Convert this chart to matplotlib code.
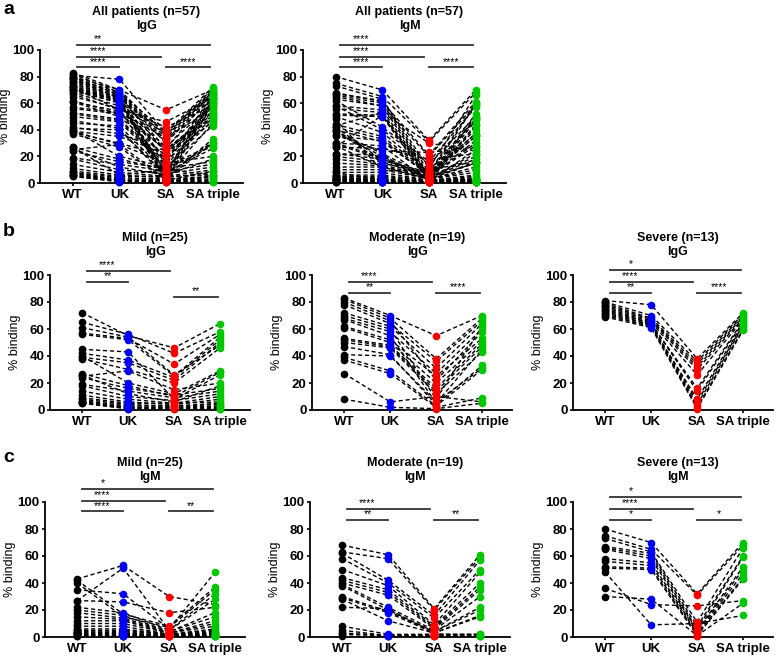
import matplotlib
matplotlib.use("Agg")
import matplotlib.pyplot as plt

plt.rcParams['font.family'] = ['Liberation Sans', 'DejaVu Sans']
plt.rcParams['font.weight'] = 'bold'

W, H = 778, 656

categories = ["WT", "UK", "SA", "SA triple"]
colors = ["black", "#0000ff", "#ff0000", "#00c800"]

# IgG, per patient: WT, UK, SA, SA triple
mild_igg_wt = [72, 65, 61, 57, 56, 45, 42, 40, 39, 38, 27, 26, 25, 24, 19, 18, 14, 11, 9, 8, 7, 6, 6, 5, 5]
mild_igg_uk = [55, 56, 54, 53, 52, 43, 37, 20, 35, 30, 18, 12, 29, 16, 14, 10, 8, 6, 5, 4, 3, 2, 2, 1, 1]
mild_igg_sa = [46, 42, 26, 34, 25, 8, 24, 12, 22, 20, 10, 6, 15, 11, 9, 7, 5, 4, 5, 3, 3, 2, 2, 1, 1]
mild_igg_sat = [64, 58, 48, 56, 54, 26, 52, 29, 50, 46, 28, 18, 20, 16, 14, 12, 10, 8, 6, 5, 4, 3, 2, 1, 1]

mod_igg_wt = [83, 82, 80, 78, 72, 70, 68, 67, 62, 61, 53, 52, 50, 47, 41, 39, 37, 27, 8]
mod_igg_uk = [70, 68, 66, 64, 62, 60, 58, 55, 52, 50, 48, 47, 46, 41, 40, 29, 27, 6, 2]
mod_igg_sa = [55, 38, 22, 36, 31, 8, 27, 5, 25, 20, 16, 14, 12, 4, 6, 3, 2, 10, 1]
mod_igg_sat = [70, 68, 58, 66, 64, 62, 60, 45, 53, 51, 49, 47, 43, 33, 31, 30, 9, 6, 5]

sev_igg_wt = [81, 80, 79, 78, 77, 76, 75, 74, 73, 72, 71, 70, 69]
sev_igg_uk = [78, 70, 68, 67, 66, 65, 64, 64, 63, 63, 62, 62, 61]
sev_igg_sa = [38, 36, 34, 32, 30, 26, 16, 14, 8, 6, 4, 2, 1]
sev_igg_sat = [72, 71, 70, 69, 68, 67, 66, 65, 64, 63, 62, 60, 59]

# IgM
mild_igm_wt = [43, 42, 40, 35, 27, 27, 22, 20, 18, 15, 12, 10, 8, 6, 5, 5, 4, 4, 3, 3, 2, 2, 2, 1, 1]
mild_igm_uk = [53, 17, 15, 32, 51, 26, 18, 16, 14, 13, 12, 10, 8, 6, 5, 4, 3, 3, 2, 2, 1, 1, 1, 1, 1]
mild_igm_sa = [30, 8, 7, 6, 5, 18, 5, 4, 4, 3, 3, 3, 2, 2, 2, 2, 1, 1, 1, 1, 1, 1, 0.5, 0.5, 0.5]
mild_igm_sat = [24, 37, 35, 48, 32, 22, 28, 18, 15, 12, 10, 8, 6, 5, 4, 3, 3, 2, 2, 1, 1, 1, 1, 0.5, 0.5]

mod_igm_wt = [68, 63, 62, 58, 50, 44, 42, 40, 39, 38, 30, 29, 28, 22, 8, 5, 3, 2, 1]
mod_igm_uk = [61, 58, 42, 40, 38, 35, 33, 31, 22, 20, 19, 18, 12, 21, 2, 1, 1, 1, 1]
mod_igm_sa = [21, 20, 16, 14, 9, 8, 7, 6, 5, 4, 4, 3, 3, 2, 2, 2, 1, 1, 1]
mod_igm_sat = [61, 59, 57, 50, 48, 40, 37, 35, 30, 22, 20, 16, 15, 2, 2, 1, 1, 1, 1]

sev_igm_wt = [80, 75, 73, 67, 66, 65, 58, 56, 52, 51, 48, 36, 30]
sev_igm_uk = [70, 65, 63, 62, 60, 58, 55, 53, 51, 50, 9, 24, 28]
sev_igm_sa = [32, 31, 11, 8, 6, 5, 4, 3, 2, 1, 10, 23, 1]
sev_igm_sat = [70, 68, 66, 60, 59, 52, 50, 47, 44, 43, 16, 27, 25]

# significance bars: (start, end, height, label)
sig_all_igg = [(0.1, 2.95, 104, "**"), (0.1, 1.9, 95, "****"), (0.1, 1.0, 87, "****"), (2.0, 2.95, 87, "****")]
sig_all_igm = [(0.1, 2.95, 104, "****"), (0.1, 1.9, 95, "****"), (0.1, 1.0, 87, "****"), (2.0, 2.95, 87, "****")]
sig_mild_igg = [(0.1, 1.9, 103, "****"), (0.1, 1.0, 95, "**"), (2.0, 2.95, 84, "**")]
sig_mod_igg = [(0.1, 1.9, 95, "****"), (0.1, 1.0, 87, "**"), (2.0, 2.95, 87, "****")]
sig_sev_igg = [(0.1, 2.95, 104, "*"), (0.1, 1.9, 95, "****"), (0.1, 1.0, 87, "**"), (2.0, 2.95, 87, "****")]
sig_mild_igm = [(0.1, 2.95, 110, "*"), (0.1, 1.9, 101, "****"), (0.1, 1.0, 93, "****"), (2.0, 2.95, 93, "**")]
sig_mod_igm = [(0.1, 1.9, 95, "****"), (0.1, 1.0, 87, "**"), (2.0, 2.95, 87, "**")]
sig_sev_igm = [(0.1, 2.95, 104, "*"), (0.1, 1.9, 95, "****"), (0.1, 1.0, 87, "*"), (2.0, 2.95, 87, "*")]


def series(*groups):
    return [sum(g, []) for g in zip(*groups)]


all_igg = series([mild_igg_wt, mild_igg_uk, mild_igg_sa, mild_igg_sat],
                 [mod_igg_wt, mod_igg_uk, mod_igg_sa, mod_igg_sat],
                 [sev_igg_wt, sev_igg_uk, sev_igg_sa, sev_igg_sat])
all_igm = series([mild_igm_wt, mild_igm_uk, mild_igm_sa, mild_igm_sat],
                 [mod_igm_wt, mod_igm_uk, mod_igm_sa, mod_igm_sat],
                 [sev_igm_wt, sev_igm_uk, sev_igm_sa, sev_igm_sat])

fig = plt.figure(figsize=(W / 100, H / 100), dpi=100)


def panel(x0, ytop, width, height, data, title, sig, title_y):
    ax = fig.add_axes([x0 / W, 1 - (ytop + height) / H, width / W, height / H])
    n = len(data[0])
    xs = range(len(categories))
    for i in range(n):
        ax.plot(xs, [d[i] for d in data], color="black", ls=(0, (3, 2)), lw=1, zorder=2, clip_on=False)
    for j, d in enumerate(data):
        ax.plot([j] * n, d, "o", color=colors[j], ms=5.5, mec="none", zorder=3, clip_on=False)
    for a, b, y, lab in sig:
        ax.plot([a, b], [y, y], color="#333333", lw=1.3, clip_on=False)
        xt = (a + b) / 2 if a >= 2 else 0.55
        ax.text(xt, y + 0.3, lab, ha="center", va="bottom", fontsize=7.5, fontweight="normal")
    ax.set_xlim(-0.7, 3.65)
    ax.set_ylim(0, 100)
    ax.set_yticks([0, 20, 40, 60, 80, 100])
    ax.set_xticks(list(xs))
    ax.set_xticklabels(categories)
    ax.tick_params(labelsize=9.5, width=1.2, length=2.5, pad=1.5)
    for s in ["top", "right"]:
        ax.spines[s].set_visible(False)
    for s in ["left", "bottom"]:
        ax.spines[s].set_linewidth(1.3)
    ax.set_ylabel("% binding", fontsize=9, labelpad=1)
    fig.text((x0 + width / 2 + 5) / W, 1 - title_y / H, title, ha="center", va="center",
             fontsize=9, fontweight="bold", linespacing=1.2)
    return ax


panel(40, 50, 203, 133, all_igg, "All patients (n=57)\nIgG", sig_all_igg, 19)
panel(303, 50, 203, 133, all_igm, "All patients (n=57)\nIgM", sig_all_igm, 19)

panel(50, 275, 200, 135, [mild_igg_wt, mild_igg_uk, mild_igg_sa, mild_igg_sat], "Mild (n=25)\nIgG", sig_mild_igg, 245)
panel(312, 275, 200, 135, [mod_igg_wt, mod_igg_uk, mod_igg_sa, mod_igg_sat], "Moderate (n=19)\nIgG", sig_mod_igg, 245)
panel(573, 275, 200, 135, [sev_igg_wt, sev_igg_uk, sev_igg_sa, sev_igg_sat], "Severe (n=13)\nIgG", sig_sev_igg, 245)

panel(45, 502, 200, 135, [mild_igm_wt, mild_igm_uk, mild_igm_sa, mild_igm_sat], "Mild (n=25)\nIgM", sig_mild_igm, 470)
panel(310, 502, 200, 135, [mod_igm_wt, mod_igm_uk, mod_igm_sa, mod_igm_sat], "Moderate (n=19)\nIgM", sig_mod_igm, 470)
panel(573, 502, 200, 135, [sev_igm_wt, sev_igm_uk, sev_igm_sa, sev_igm_sat], "Severe (n=13)\nIgM", sig_sev_igm, 470)

for lab, y in [("a", 10), ("b", 232), ("c", 458)]:
    fig.text(3 / W, 1 - y / H, lab, fontsize=14, fontweight="bold", va="center", ha="left")

plt.savefig("out.png", dpi=100)
